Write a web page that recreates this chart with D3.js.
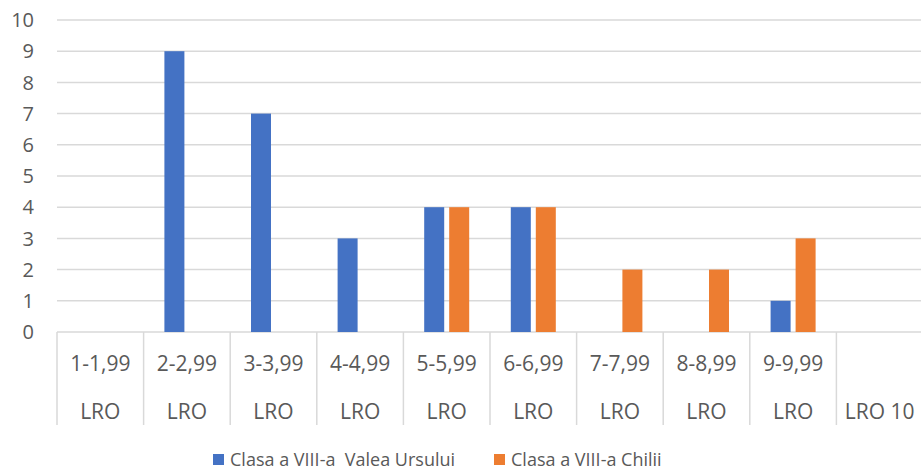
<!DOCTYPE html>
<html><head><meta charset="utf-8">
<script src="https://cdn.jsdelivr.net/npm/d3@7"></script>
<style>body{margin:0;background:#fff}svg{display:block}text{font-family:"Open Sans","Liberation Sans",sans-serif;fill:#595959}</style>
</head><body>
<svg id="c" width="921" height="472"></svg>
<script>
const ranges = ["1-1,99","2-2,99","3-3,99","4-4,99","5-5,99","6-6,99","7-7,99","8-8,99","9-9,99",""];
const groups = ["LRO","LRO","LRO","LRO","LRO","LRO","LRO","LRO","LRO","LRO 10"];
const seriesNames = ["Clasa a VIII-a  Valea Ursului","Clasa a VIII-a Chilii"];
const valeaUrsului = [0,9,7,3,4,4,0,0,1,0];
const chilii = [0,0,0,0,4,4,2,2,3,0];
const yTicks = [0,1,2,3,4,5,6,7,8,9,10];
const colors = ["#4472C4","#ED7D31"];

(function(){
const svg = d3.select("#c");
const pL = 57, pR = 923, pT = 20, pB = 332;
const idx = d3.range(ranges.length);
const x = d3.scaleBand().domain(idx).range([pL,pR]).paddingInner(0).paddingOuter(0);
const y = d3.scaleLinear().domain([0,10]).range([pB,pT]);

svg.append("g").selectAll("line").data(yTicks).join("line")
  .attr("x1",pL).attr("x2",pR).attr("y1",d=>y(d)).attr("y2",d=>y(d))
  .attr("stroke","#d9d9d9").attr("stroke-width",1.5);

svg.append("g").selectAll("text").data(yTicks).join("text")
  .attr("x",34).attr("y",d=>y(d)).attr("dy","0.36em").attr("text-anchor","end")
  .attr("font-size",20).text(d=>d);

const bw = 20, gap = 5;
const series = [valeaUrsului, chilii];
series.forEach((vals,si)=>{
  svg.append("g").selectAll("rect").data(idx.filter(i=>vals[i]>0)).join("rect")
    .attr("x",i=> x(i)+x.bandwidth()/2 + (si===0 ? -gap/2-bw : gap/2))
    .attr("width",bw)
    .attr("y",i=>y(vals[i])).attr("height",i=>y(0)-y(vals[i]))
    .attr("fill",colors[si]);
});

const sepBottom = 425;
svg.append("g").selectAll("line").data(d3.range(ranges.length+1)).join("line")
  .attr("x1",i=> i<ranges.length ? x(i) : pR).attr("x2",i=> i<ranges.length ? x(i) : pR)
  .attr("y1",pB).attr("y2",sepBottom)
  .attr("stroke","#d9d9d9").attr("stroke-width",1.5);

svg.append("g").selectAll("text").data(idx).join("text")
  .attr("x",i=>x(i)+x.bandwidth()/2).attr("y",363).attr("dy","0.36em")
  .attr("text-anchor","middle").attr("font-size",21).text(i=>ranges[i]);
svg.append("g").selectAll("text").data(idx).join("text")
  .attr("x",i=>x(i)+x.bandwidth()/2).attr("y",411).attr("dy","0.36em")
  .attr("text-anchor","middle").attr("font-size",21).text(i=>groups[i]);

const legX = [213, 494];
seriesNames.forEach((n,i)=>{
  svg.append("rect").attr("x",legX[i]).attr("y",454).attr("width",11).attr("height",11).attr("fill",colors[i]);
  svg.append("text").attr("x",legX[i]+17).attr("y",460).attr("dy","0.36em").attr("font-size",18)
    .attr("xml:space","preserve").style("white-space","pre").text(n);
});
})();
</script>
</body></html>
